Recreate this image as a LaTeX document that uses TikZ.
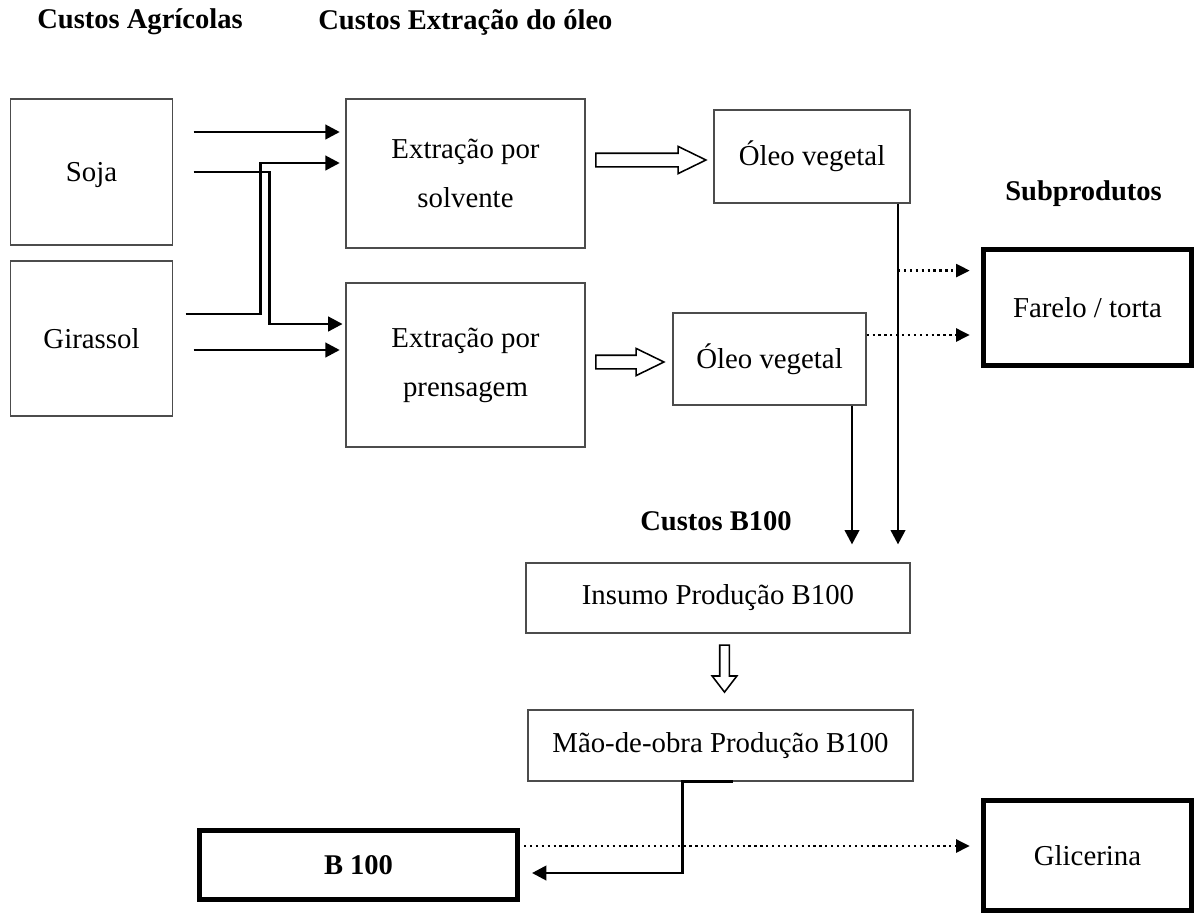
\documentclass[tikz,border=0pt]{standalone}
\usepackage{fontspec}
\setmainfont{Liberation Serif}
\usetikzlibrary{arrows.meta,shapes.arrows,calc}

\begin{document}
\begin{tikzpicture}[x=0.025cm, y=-0.025cm,
    box/.style={draw=black!70, line width=0.8pt, align=center, inner sep=0pt,
        font=\fontsize{20.5}{35}\selectfont},
    bigbox/.style={box, draw=black, line width=3.5pt},
    title/.style={anchor=west, inner sep=0pt, font=\bfseries\fontsize{20.3}{24}\selectfont},
    arr/.style={line width=2pt, -{Triangle[length=0.36cm, width=0.36cm]}},
    dotarr/.style={line width=2pt, dash pattern=on 1.6pt off 2.6pt, -{Triangle[length=0.34cm, width=0.32cm]}},
    hollow/.style={draw, line width=1.1pt, single arrow, inner sep=0.15cm,
        single arrow head extend=0.17cm, single arrow tip angle=52}]
    \useasboundingbox (0,0) rectangle (1196,915);

    % titles
    \node[title] (tagr) at (37,22) {Custos Agrícolas};
    \node[title] (text) at (318,22) {Custos Extração do óleo};
    \node[title] (tsub) at (1005,194) {Subprodutos};
    \node[title] (tb) at (640,521) {Custos B100};

    % boxes
    \node[box, minimum width=4.03cm, minimum height=3.65cm, text depth=0pt] (soja) at (91.5,172) {Soja};
    \node[box, minimum width=4.03cm, minimum height=3.875cm] (gira) at (91.5,338.5) {Girassol};
    \node[box, minimum width=5.975cm, minimum height=3.725cm] (solv) at (465.5,173.5) {Extração por\\solvente};
    \node[box, minimum width=5.975cm, minimum height=4.1cm] (pren) at (465.5,365) {Extração por\\prensagem};
    \node[box, minimum width=4.9cm, minimum height=2.325cm] (oleo1) at (812,156.5) {Óleo vegetal};
    \node[box, minimum width=4.825cm, minimum height=2.3cm] (oleo2) at (769.5,359) {Óleo vegetal};
    \node[bigbox, minimum width=5.2cm, minimum height=2.9cm] (farelo) at (1087.5,307.5) {Farelo / torta};
    \node[box, minimum width=9.6cm, minimum height=1.75cm] (insumo) at (718,598) {Insumo Produção B100};
    \node[box, minimum width=9.625cm, minimum height=1.775cm] (mao) at (720.5,745.5) {Mão-de-obra Produção B100};
    \node[bigbox, minimum width=7.95cm, minimum height=1.725cm, font=\bfseries\fontsize{20.3}{24}\selectfont] (b100) at (358.5,865) {B 100};
    \node[bigbox, minimum width=5.2cm, minimum height=2.75cm] (glic) at (1087.5,855.5) {Glicerina};

    % hollow arrows
    \node[hollow, minimum height=2.75cm] (h1) at (644,160) {};
    \node[hollow, minimum height=1.7cm] (h2) at (623,362) {};
    \node[hollow, rotate=-90, inner sep=0.1cm, single arrow head extend=0.19cm,
        single arrow tip angle=75, minimum height=1.175cm] (h3) at (724.5,665.5) {};

    % raw material flows
    \coordinate (s1) at ($(soja.east)+(21,-40)$);
    \coordinate (s2) at ($(soja.east)+(21,0)$);
    \coordinate (g1) at ($(gira.east)+(13,-24.5)$);
    \coordinate (g2) at ($(gira.east)+(21,11.5)$);
    \draw[arr, shorten >=4pt] (s1) -- (s1 -| solv.west);
    \draw[arr, shorten >=2pt] (s2) -- ++(76,0) |- ($(pren.west)+(0,-41)$);
    \draw[arr, shorten >=4pt] (g1) -- ++(75,0) |- ($(solv.west)+(0,-10.5)$);
    \draw[arr, shorten >=4pt] (g2) -- (g2 -| pren.west);

    % oil to B100
    \coordinate (o1) at ($(oleo1.south)+(86,0)$);
    \coordinate (o2) at ($(oleo2.south)+(82.5,0)$);
    \draw[arr, shorten >=0.45cm] (o1) -- (o1 |- insumo.north);
    \draw[arr, shorten >=0.45cm] (o2) -- (o2 |- insumo.north);

    % by-products
    \coordinate (d1) at ($(o1)+(0,67)$);
    \coordinate (d2) at ($(oleo2.east)+(0,-24)$);
    \coordinate (d3) at ($(b100.east)+(4,-19)$);
    \draw[dotarr, shorten >=8pt] (d1) -- (d1 -| farelo.west);
    \draw[dotarr, shorten >=8pt] (d2) -- (d2 -| farelo.west);
    \draw[dotarr, shorten >=8pt] (d3) -- (d3 -| glic.west);

    % final product
    \draw[arr] ($(mao.south)+(12,0)$) -- ++(-50,0) |- ($(b100.east)+(12,8)$);
\end{tikzpicture}
\end{document}
